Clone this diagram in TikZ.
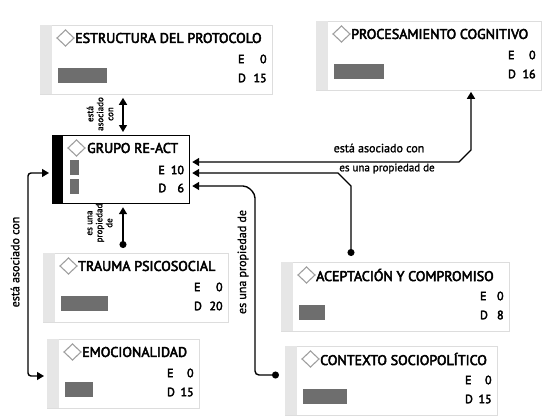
\documentclass[tikz,border=0pt]{standalone}
\usepackage{fontspec}
\setmainfont{PT Sans}[BoldFont={PT Sans}, BoldFeatures={FakeBold=3.5}]
\newfontfamily\lblfont{PT Sans}[FakeBold=1.5, BoldFont={PT Sans}, BoldFeatures={FakeBold=1.5}]
\usetikzlibrary{calc,arrows.meta}
\definecolor{stripegray}{HTML}{E6E6E6}
\definecolor{bordergray}{HTML}{DDDDDD}
\definecolor{bargray}{HTML}{6E6E6E}
\definecolor{diamgray}{HTML}{A0A0A0}
\tikzset{
  ebox/.style={draw=bordergray, line width=0.8pt, fill=white, rectangle, inner sep=0pt, minimum height=69pt},
  ttl/.style={inner sep=0pt, font=\fontsize{14}{16}\selectfont\bfseries},
  num/.style={inner sep=0pt, font=\fontsize{12}{14}\selectfont\bfseries},
  lbl/.style={inner sep=0pt, font=\lblfont\fontsize{12}{14}\selectfont\bfseries},
  lbls/.style={inner sep=0pt, font=\lblfont\fontsize{11}{13}\selectfont\bfseries},
  lbltiny/.style={inner sep=0pt, align=center, font=\lblfont\fontsize{9}{10}\selectfont\bfseries},
  conn/.style={line width=1.4pt},
}
\newcommand\ebox[9]{%
  \node[ebox, minimum width=#4pt, anchor=north west] (#1) at (#2,#3) {};
  \fill[stripegray] ($(#1.north west)+(0.4,0.4)$) rectangle ($(#1.south west)+(12,-0.4)$);
  \draw[diamgray, line width=1.1pt] ($(#1.north west)+(17,13)$) -- ++(8.5,-8) -- ++(8.5,8) -- ++(-8.5,8) -- cycle;
  \node[ttl, anchor=west] at ($(#1.north west)+(35,13)$) {#5};
  \node[num, anchor=west] at ($(#1.north east)+(-#9,34)$) {E};
  \node[num, anchor=west] at ($(#1.north east)+(-#9,53)$) {D};
  \node[num, anchor=east] at ($(#1.north east)+(-6,34)$) {#6};
  \node[num, anchor=east] at ($(#1.north east)+(-6,53)$) {#7};
  \fill[bargray] ($(#1.north west)+(18,43)$) rectangle ++(#8,15);
}
\begin{document}
\begin{tikzpicture}[x=1pt,y=-1pt]
\useasboundingbox (0,0) rectangle (550,418);

\ebox{est}{40}{25}{232}{ESTRUCTURA DEL PROTOCOLO}{0}{15}{49}{35}
\ebox{proc}{316}{21}{225}{PROCESAMIENTO COGNITIVO}{0}{16}{50}{34}
\ebox{trauma}{43}{253}{185}{TRAUMA PSICOSOCIAL}{0}{20}{47}{35}
\ebox{emoc}{47}{339}{152}{EMOCIONALIDAD}{0}{15}{28}{33}
\ebox{acept}{281}{262}{228}{ACEPTACIÓN Y COMPROMISO}{0}{8}{26}{30}
\ebox{ctx}{285}{346}{212}{CONTEXTO SOCIOPOLÍTICO}{0}{15}{44}{33}

% central node
\node[draw=black, line width=1.2pt, fill=white, rectangle, inner sep=0pt,
      minimum width=137pt, minimum height=68pt, anchor=north west] (grupo) at (52,135) {};
\fill[black] (grupo.north west) rectangle ($(grupo.south west)+(11,0)$);
\draw[diamgray, line width=1.1pt] ($(grupo.north west)+(16,13)$) -- ++(8.5,-8) -- ++(8.5,8) -- ++(-8.5,8) -- cycle;
\node[ttl, anchor=west] at ($(grupo.north west)+(35,13)$) {GRUPO RE-ACT};
\node[num, anchor=west] at ($(grupo.north east)+(-32,35)$) {E};
\node[num, anchor=west] at ($(grupo.north east)+(-32,53)$) {D};
\node[num, anchor=east] at ($(grupo.north east)+(-6,35)$) {10};
\node[num, anchor=east] at ($(grupo.north east)+(-6,53)$) {6};
\fill[bargray] ($(grupo.north west)+(18,25)$) rectangle ++(9,15);
\fill[bargray] ($(grupo.north west)+(18,44)$) rectangle ++(9,15);

% connectors
\coordinate (g1) at ($(grupo.north east)+(2,27)$);
\coordinate (g2) at ($(grupo.north east)+(2,38)$);
\coordinate (g3) at ($(grupo.north east)+(2,51)$);

\draw[conn, {Triangle[width=8pt,length=7pt]}-{Triangle[width=8pt,length=7pt]}]
  (g1) -- (459,162) -- (471,150) -- ($(proc.south west)+(155,1)$);
\node[lbl] (l1) at (379,148) {está asociado con};

\draw[conn, {Triangle[width=8pt,length=7pt]}-{Circle[length=7pt]}]
  (g2) -- (338,173) -- (351,186) -- ($(acept.north west)+(70,-6)$);
\node[lbls] (l2) at (387,168.5) {es una propiedad de};

\draw[conn, {Triangle[width=8pt,length=7pt]}-{Circle[length=7pt]}, rounded corners=4pt]
  (g3) -- (247,186) -- (255,194) -- (255,375) -- ($(ctx.north west)+(-6,29)$);
\node[lbl, rotate=90] (l3) at (243,262) {es una propiedad de};

\draw[conn, {Triangle[width=8pt,length=7pt]}-{Triangle[width=8pt,length=7pt]}, rounded corners=3pt]
  ($(grupo.north west)+(-3,38)$) -- (28,173) -- (28,376) -- ($(emoc.north west)+(-3,37)$);
\node[lbl, rotate=90] (l4) at (15,262) {está asociado con};

\draw[conn, {Triangle[width=8pt,length=7pt]}-{Triangle[width=8pt,length=7pt]}]
  ($(est.south west)+(83,3)$) -- ($(grupo.north west)+(71,-3)$);
\node[lbltiny, rotate=90] (l5) at (100,114) {está\\asociado\\con};

\draw[conn, {Triangle[width=8pt,length=7pt]}-{Circle[length=7pt]}]
  ($(grupo.south west)+(71,3)$) -- ($(trauma.north west)+(80,-5)$);
\node[lbltiny, rotate=90] (l6) at (100,223) {es una\\propiedad\\de};
\end{tikzpicture}
\end{document}
